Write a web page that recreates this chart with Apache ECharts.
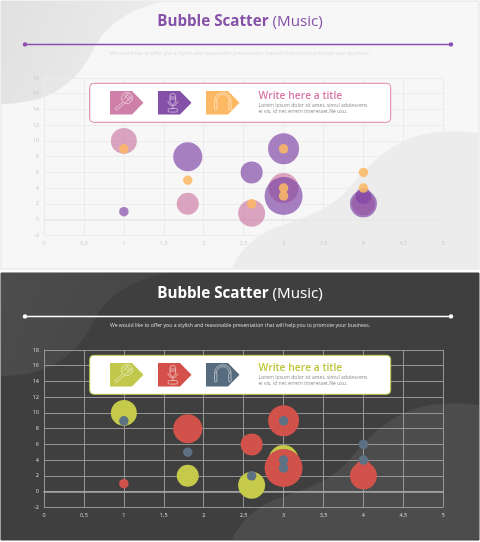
<!DOCTYPE html>
<html><head><meta charset="utf-8">
<style>html,body{margin:0;padding:0;background:#fff}#c{width:480px;height:542px}</style>
<script src="https://cdn.jsdelivr.net/npm/echarts@6/dist/echarts.min.js"></script>
</head><body><div id="c"></div>
<script>
const xTicks = ['0','0,5','1','1,5','2','2,5','3','3,5','4','4,5','5'];
const yRange = [-2, 18];
const seriesA = [[1,10,26],[1.8,2,22],[2.6,0.8,27],[3,4,30],[4,2,23]];
const seriesB = [[1,1,9.5],[1.8,8,29],[2.6,6,22],[3,9,31],[3,3,38],[4,2,27],[4,3,16]];
const seriesC = [[1,9,9.5],[1.8,5,9.5],[2.6,2,9.5],[3,9,9.5],[3,4,9.5],[3,3,9.5],[4,6,9.5],[4,4,9.5]];
const titleBold = 'Bubble Scatter';
const titleLight = ' (Music)';
const subtitle = 'We would like to offer you a stylish and reasonable presentation that will help you to promote your business.';
const boxTitle = 'Write here a title';
const boxText = ['Lorem ipsum dolor sit amet, simul adolescens', 'ei vis, id nec errem interesset.Ne usu.'];

const themes = [
  {dy:0, h:269, bg:'#f7f7f7', border:'#e2e2e2', blobA:['#e0e0e0','#eeeeee'], blobB:'#ececec', title:'#8550a8', line:'#8a4fb0',
   sub:'#dcdcdc', tick:'#c9c9c9', split:'#ececec', axis:'#e8e8e8', boxBorder:'#dc82ad', boxTitle:'#d977a5',
   icons:['#cf80a9','#8550a8','#fdb863'], colors:['#c8709c','#7f45a5','#fdb863'], op:[0.62,0.68,0.85]},
  {dy:272, h:268, bg:'#3f3f3f', border:'#3f3f3f', blobA:['#4d4d4d','#454545'], blobB:'#4c4c4c', title:'#ffffff', line:'#ffffff',
   sub:'#dedede', tick:'#dddddd', split:'#959595', axis:'#a8a8a8', boxBorder:'#c0c84c', boxTitle:'#bcc63a',
   icons:['#c2c84b','#d3514a','#566b7e'], colors:['#c6ca4a','#d0524a','#5d7184'], op:[1,1,1]}
];

// sample a chain of cubic Bezier segments into polygon points
function curve(start, segs, dy){
  const pts=[[start[0],start[1]+dy]];
  let p=start;
  segs.forEach(s=>{
    if(s.length===2){pts.push([s[0],s[1]+dy]);p=s;return;}
    for(let k=1;k<=16;k++){
      const u=k/16,v=1-u;
      const a=v*v*v,b=3*v*v*u,c=3*v*u*u,d=u*u*u;
      pts.push([a*p[0]+b*s[0]+c*s[2]+d*s[4], a*p[1]+b*s[1]+c*s[3]+d*s[5]+dy]);
    }
    p=[s[4],s[5]];
  });
  return pts;
}

function panelGraphics(t){
  const dy=t.dy, out=[];
  out.push({type:'rect',z:-10,shape:{x:1,y:dy+1,width:478,height:t.h-1},style:{fill:t.bg,stroke:t.border,lineWidth:1}});
  out.push({type:'polygon',z:-9,shape:{points:curve([1,1],[[166,1],[130,8,108,25,97,43],[88,60,80,78,53,93],[40,100,20,104,1,104]],dy)},
    style:{fill:new echarts.graphic.LinearGradient(0,0,1,0.6,[{offset:0,color:t.blobA[0]},{offset:1,color:t.blobA[1]}])}});
  out.push({type:'polygon',z:-9,shape:{points:curve([232,t.h-0.5],[[240,250,255,235,277,227],[295,219,325,215,347,190],[365,170,385,145,420,135],[440,130,465,131,479,133],[479,t.h-0.5]],dy)},
    style:{fill:t.blobB}});
  out.push({type:'line',z:5,shape:{x1:25,y1:dy+44.4,x2:451,y2:dy+44.4},style:{stroke:t.line,lineWidth:1.5}});
  out.push({type:'circle',z:5,shape:{cx:25,cy:dy+44.4,r:2.2},style:{fill:t.line}});
  out.push({type:'circle',z:5,shape:{cx:451,cy:dy+44.4,r:2.2},style:{fill:t.line}});
  out.push({type:'text',z:5,x:240,y:dy+21.5,style:{
    text:'{b|'+titleBold+'}{l|'+titleLight+'}',align:'center',verticalAlign:'middle',
    rich:{b:{font:'bold 15.2px "Open Sans"',fill:t.title},l:{font:'15.2px "Open Sans"',fill:t.title}}}});
  out.push({type:'text',z:5,x:240,y:dy+54,style:{text:subtitle,align:'center',verticalAlign:'middle',
    font:'5.15px "Open Sans"',fill:t.sub}});
  // card
  out.push({type:'rect',z:6,shape:{x:89.7,y:dy+83.3,width:301,height:39,r:4},style:{fill:'#fff',stroke:t.boxBorder,lineWidth:1}});
  out.push({type:'text',z:7,x:258.5,y:dy+96,style:{text:boxTitle,verticalAlign:'middle',font:'600 10.3px "Open Sans"',fill:t.boxTitle}});
  out.push({type:'text',z:7,x:258.5,y:dy+106,style:{text:boxText[0],verticalAlign:'middle',font:'5.1px "Open Sans"',fill:'#8c8c8c'}});
  out.push({type:'text',z:7,x:258.5,y:dy+112,style:{text:boxText[1],verticalAlign:'middle',font:'5.1px "Open Sans"',fill:'#8c8c8c'}});
  // tags
  [110,158,206].forEach((x,i)=>{
    out.push({type:'polygon',z:7,shape:{points:[[x,dy+91],[x+22,dy+91],[x+33.5,dy+102.7],[x+22,dy+114.4],[x,dy+114.4]]},style:{fill:t.icons[i]}});
  });
  const s={fill:null,stroke:'#fff',lineWidth:0.6,opacity:0.85};
  const add=(type,shape)=>out.push({type,z:8,shape,style:s});
  const L=(a,b,c,d)=>add('line',{x1:a,y1:b+dy,x2:c,y2:d+dy});
  const P=(pts)=>add('polyline',{points:pts.map(p=>[p[0],p[1]+dy])});
  // handheld mic
  add('circle',{cx:127,cy:dy+98,r:5.5});
  P([[123,102],[115,108.5],[116.5,110.5],[124.5,103.5]]);
  L(124,95,130,101); L(126,93.5,132,99.5); L(123,99.5,128.5,93.5); L(125.5,102.5,131.5,96);
  // studio mic
  add('rect',{x:170,y:dy+93.5,width:5.6,height:11,r:2.8});
  L(170,97,175.6,97); L(170,99,175.6,99);
  add('arc',{cx:172.8,cy:dy+101,r:4.8,startAngle:0,endAngle:Math.PI,clockwise:true});
  L(172.8,105.8,172.8,108.5);
  add('rect',{x:168,y:dy+108.5,width:9.6,height:3.6,r:1.8});
  // headphones
  add('arc',{cx:222.8,cy:dy+101,r:8.3,startAngle:Math.PI,endAngle:0,clockwise:true});
  add('arc',{cx:222.8,cy:dy+101,r:6.4,startAngle:Math.PI,endAngle:0,clockwise:true});
  add('rect',{x:214.5,y:dy+101,width:2.4,height:9,r:1.2});
  add('rect',{x:228.7,y:dy+101,width:2.4,height:9,r:1.2});
  return out;
}

const grids=[],xAxes=[],yAxes=[],series=[];
themes.forEach((t,i)=>{
  grids.push({left:44,width:399.3,top:78+t.dy,height:157.3,containLabel:false});
  xAxes.push({type:'value',gridIndex:i,min:0,max:5,interval:0.5,
    axisLine:{show:true,onZero:true,lineStyle:{color:t.axis,width:1.5}},axisTick:{show:false},
    axisLabel:{color:t.tick,fontSize:5.5,fontFamily:'Open Sans',margin:5,showMinLabel:true,showMaxLabel:true,
      formatter:v=>xTicks[Math.round(v*2)]},
    splitLine:{show:true,lineStyle:{color:t.split,width:1}}});
  yAxes.push({type:'value',gridIndex:i,min:yRange[0],max:yRange[1],interval:2,
    axisLine:{show:true,onZero:false,lineStyle:{color:t.split,width:1}},axisTick:{show:false},
    axisLabel:{color:t.tick,fontSize:5.5,fontFamily:'Open Sans',margin:5,showMinLabel:true,showMaxLabel:true},
    splitLine:{show:true,lineStyle:{color:t.split,width:1}}});
  [seriesA,seriesB,seriesC].forEach((d,k)=>{
    series.push({type:'scatter',xAxisIndex:i,yAxisIndex:i,data:d,symbolSize:v=>v[2],z:3+k,silent:true,animation:false,
      itemStyle:{color:t.colors[k],opacity:t.op[k],borderWidth:0}});
  });
});

const chart=echarts.init(document.getElementById('c'),null,{renderer:'canvas'});
chart.setOption({animation:false,backgroundColor:'#fff',grid:grids,xAxis:xAxes,yAxis:yAxes,series:series,
  graphic:{elements:themes.flatMap(panelGraphics)}});
</script></body></html>
